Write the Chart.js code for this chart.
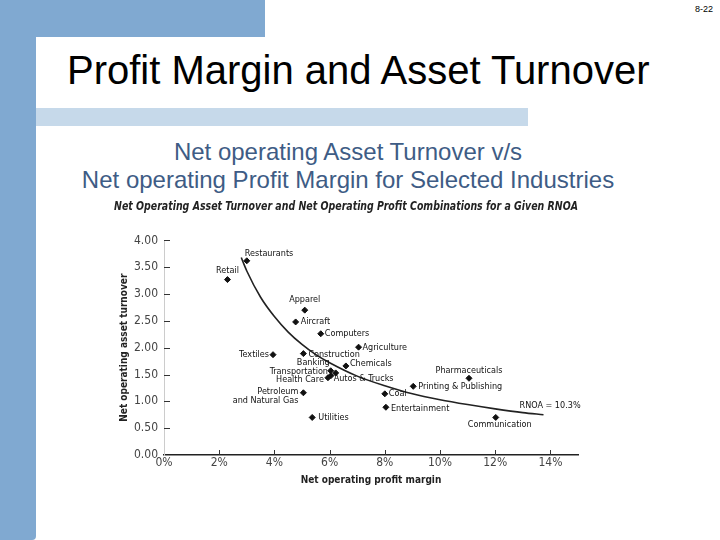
<!DOCTYPE html>
<html>
<head>
<meta charset="utf-8">
<script src="https://cdn.jsdelivr.net/npm/chart.js@4.4.1/dist/chart.umd.min.js"></script>
<style>
  html, body { margin: 0; padding: 0; }
  body { width: 720px; height: 540px; position: relative; background: #fff; overflow: hidden; font-family: 'Liberation Sans', Arial, sans-serif; }
  .blk { position: absolute; }
  #topbar { left: 0; top: 0; width: 265px; height: 37px; background: #80a9d1; }
  #sidebar { left: 0; top: 0; width: 36px; height: 540px; background: #80a9d1; border-bottom-right-radius: 4px; }
  #ribbon { left: 36px; top: 108px; width: 492px; height: 18px; background: #c6d9ea; }
  #title { left: 67px; top: 47px; font-size: 40px; line-height: 46px; color: #000; white-space: nowrap; }
  #sub { left: 36px; width: 624px; top: 138px; font-size: 24px; line-height: 28px; color: #3e5c85; text-align: center; white-space: nowrap; }
  #pg { right: 7px; top: 4px; font-size: 9px; color: #000; }
  #wrap { position: absolute; left: 100px; top: 195px; width: 500px; height: 300px; }
</style>
</head>
<body>
<div class="blk" id="topbar"></div>
<div class="blk" id="sidebar"></div>
<div class="blk" id="ribbon"></div>
<div class="blk" id="title">Profit Margin and Asset Turnover</div>
<div class="blk" id="sub">Net operating Asset Turnover v/s<br>Net operating Profit Margin for Selected Industries</div>
<div class="blk" id="pg">8-22</div>
<div id="wrap"><canvas id="chart" width="500" height="300"></canvas></div>
<script>
// industries and their (profit margin %, asset turnover)
const industries = ['Restaurants', 'Retail', 'Apparel', 'Aircraft', 'Computers', 'Agriculture',
  'Textiles', 'Construction', 'Chemicals', 'Banking', 'Transportation', 'Health Care',
  'Autos & Trucks', 'Petroleum\nand Natural Gas', 'Utilities', 'Coal', 'Entertainment',
  'Printing & Publishing', 'Pharmaceuticals', 'Communication'];
const margin = [3.0, 2.3, 5.1, 4.77, 5.68, 7.05, 3.95, 5.05, 6.59, 6.04, 6.05, 5.94,
  6.22, 5.05, 5.37, 8.0, 8.04, 9.03, 11.05, 12.02];
const turnover = [3.62, 3.27, 2.70, 2.48, 2.26, 2.01, 1.87, 1.89, 1.66, 1.57, 1.48, 1.44,
  1.53, 1.16, 0.70, 1.14, 0.89, 1.28, 1.43, 0.70];

// RNOA = 10.3% curve
const curveMargin = [2.8, 3.0, 3.5, 4.0, 4.5, 5.0, 5.5, 6.0, 7.0, 8.0, 9.0, 10.0, 11.0, 12.0, 13.0, 13.75];
const curveTurnover = [3.68, 3.43, 2.94, 2.58, 2.29, 2.06, 1.87, 1.72, 1.47, 1.29, 1.14, 1.03, 0.94, 0.86, 0.79, 0.75];
const curveLabel = 'RNOA = 10.3%';

const xTicks = [0, 2, 4, 6, 8, 10, 12, 14];
const yTicks = [0, 0.5, 1, 1.5, 2, 2.5, 3, 3.5, 4];

// label placement next to each point: [textAlign, dx, dy]
const place = [
  ['left', -2, -7], ['center', 0, -9], ['center', 0, -10], ['left', 5, 0], ['left', 4, 0],
  ['left', 4, 0], ['right', -4, 0], ['left', 5, 1], ['left', 4, -2], ['right', -1, -8],
  ['right', -3, -4], ['right', -4, 2], ['left', -2, 6], ['right', -5, -1], ['left', 6, 0],
  ['left', 4, 0], ['left', 5, 1], ['left', 5, 0], ['center', 0, -8], ['center', 4, 7]
];

const narrow = "'Liberation Sans Narrow', 'DejaVu Sans Condensed', Arial, sans-serif";

const pointLabels = {
  id: 'pointLabels',
  afterDatasetsDraw(chart) {
    const ctx = chart.ctx;
    ctx.save();
    ctx.fillStyle = '#111';
    ctx.font = '9px ' + narrow;
    ctx.textBaseline = 'middle';
    chart.getDatasetMeta(1).data.forEach((pt, i) => {
      const [al, dx, dy] = place[i];
      ctx.textAlign = al;
      industries[i].split('\n').forEach((line, k) => {
        ctx.fillText(line, pt.x + dx, pt.y + dy + k * 9);
      });
    });
    const cm = chart.getDatasetMeta(0).data;
    const last = cm[cm.length - 1];
    ctx.textAlign = 'left';
    ctx.fillText(curveLabel, last.x - 24, last.y - 9);
    ctx.restore();
  }
};

const innerTicks = {
  id: 'innerTicks',
  afterDraw(chart) {
    const {ctx, scales: {x, y}, chartArea: a} = chart;
    ctx.save();
    ctx.strokeStyle = '#333';
    ctx.lineWidth = 1;
    ctx.beginPath();
    xTicks.slice(1).forEach(v => {
      const px = Math.round(x.getPixelForValue(v)) + 0.5;
      ctx.moveTo(px, a.bottom);
      ctx.lineTo(px, a.bottom - 5);
    });
    yTicks.slice(1).forEach(v => {
      const py = Math.round(y.getPixelForValue(v)) + 0.5;
      ctx.moveTo(a.left, py);
      ctx.lineTo(a.left + 6, py);
    });
    ctx.stroke();
    ctx.restore();
  }
};

new Chart(document.getElementById('chart'), {
  type: 'scatter',
  data: {
    datasets: [{
      type: 'line',
      data: curveMargin.map((m, i) => ({x: m, y: curveTurnover[i]})),
      borderColor: '#222',
      borderWidth: 1.6,
      pointRadius: 0,
      cubicInterpolationMode: 'monotone',
      fill: false
    }, {
      data: margin.map((m, i) => ({x: m, y: turnover[i]})),
      backgroundColor: '#111',
      borderColor: '#111',
      pointStyle: 'rectRot',
      pointRadius: 3
    }]
  },
  options: {
    responsive: false,
    animation: false,
    layout: { padding: { left: 14, right: 22, top: 0, bottom: 5 } },
    plugins: {
      legend: { display: false },
      tooltip: { enabled: false },
      title: {
        display: true,
        text: 'Net Operating Asset Turnover and Net Operating Profit Combinations for a Given RNOA',
        color: '#222',
        font: { family: narrow, size: 12, weight: 'bold', style: 'italic' },
        padding: { top: 5, bottom: 26 }
      }
    },
    scales: {
      x: {
        type: 'linear',
        min: 0, max: 15,
        afterFit(s) { s.height = 35; },
        afterBuildTicks(s) { s.ticks = xTicks.map(v => ({value: v})); },
        ticks: { padding: 1, color: '#444', font: { family: narrow, size: 12 }, callback: v => v + '%' },
        grid: { display: false, drawTicks: false },
        border: { display: true, color: '#222', width: 1.5 },
        title: { display: true, text: 'Net operating profit margin', color: '#222',
          font: { family: narrow, size: 10, weight: 'bold' }, padding: { top: 0, bottom: 4 } }
      },
      y: {
        min: 0, max: 4,
        afterFit(s) { s.width = 50; },
        afterBuildTicks(s) { s.ticks = yTicks.map(v => ({value: v})); },
        ticks: { padding: 6, color: '#444', font: { family: narrow, size: 12 }, callback: v => v.toFixed(2) },
        grid: { display: false, drawTicks: false },
        border: { display: true, color: '#ccc', width: 1 },
        title: { display: true, text: 'Net operating asset turnover', color: '#222',
          font: { family: narrow, size: 10, weight: 'bold' }, padding: { top: 4, bottom: 0 } }
      }
    }
  },
  plugins: [pointLabels, innerTicks]
});
</script>
</body>
</html>
